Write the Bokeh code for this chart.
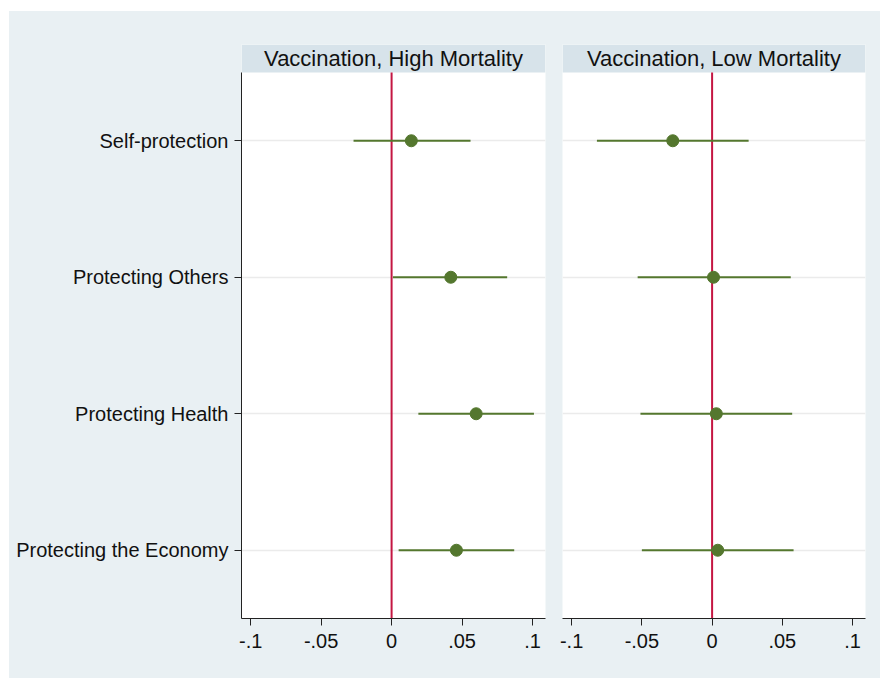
from bokeh.plotting import figure
from bokeh.models import ColumnDataSource, Range1d, FixedTicker, Label, Row
from bokeh.embed import file_html
from bokeh.resources import INLINE

# ---- data ----
categories = ["Self-protection", "Protecting Others", "Protecting Health", "Protecting the Economy"]
panels = ["Vaccination, High Mortality", "Vaccination, Low Mortality"]

high_est = [0.014, 0.042, 0.060, 0.046]
high_lo = [-0.027, 0.001, 0.019, 0.005]
high_hi = [0.056, 0.082, 0.101, 0.087]

low_est = [-0.028, 0.001, 0.003, 0.004]
low_lo = [-0.082, -0.053, -0.051, -0.050]
low_hi = [0.026, 0.056, 0.057, 0.058]

x_ticks = [-0.1, -0.05, 0, 0.05, 0.1]
x_tick_labels = ["-.1", "-.05", "0", ".05", ".1"]

# ---- style ----
BG = "#E9F0F3"
STRIP = "#D7E3EA"
GREEN = "#54772E"
RED = "#C41642"
GRID = "#EBEBEB"
FONT = "Liberation Sans"

ypos = list(range(1, len(categories) + 1))
y_bottom = len(categories) + 0.5
y_top = 0.5
px_per_unit = 136.5
strip_units = 28 / px_per_unit
X0, X1 = -0.1065, 0.1092


def make_panel(title, est, lo, hi, show_y, width, left, right):
    p = figure(width=width, height=667, output_backend="svg", toolbar_location=None,
               x_range=Range1d(X0, X1), y_range=Range1d(y_bottom, y_top - strip_units),
               min_border_left=left, min_border_right=right, min_border_top=33,
               min_border_bottom=60)
    p.background_fill_color = "white"
    p.border_fill_color = BG
    p.outline_line_color = None

    # title strip
    p.quad(left=[X0], right=[X1], top=[y_top - strip_units], bottom=[y_top],
           fill_color=STRIP, line_color=None)
    p.add_layout(Label(x=(X0 + X1) / 2, y=y_top - strip_units / 2, text=title,
                       text_align="center", text_baseline="middle",
                       text_font=FONT, text_font_size="22px", text_color="#111111"))

    # zero line
    p.segment(x0=[0], x1=[0], y0=[y_top], y1=[y_bottom], line_color=RED, line_width=2)

    src = ColumnDataSource(dict(y=ypos, est=est, lo=lo, hi=hi))
    p.segment(x0="lo", x1="hi", y0="y", y1="y", source=src, line_color=GREEN, line_width=2)
    p.scatter(x="est", y="y", source=src, size=12, fill_color=GREEN, line_color=GREEN)

    # grids
    p.xgrid.visible = False
    p.ygrid.ticker = FixedTicker(ticks=ypos)
    p.ygrid.grid_line_color = GRID
    p.ygrid.grid_line_width = 1.5

    # x axis
    xa = p.xaxis[0]
    xa.ticker = FixedTicker(ticks=x_ticks)
    xa.major_label_overrides = {t: l for t, l in zip(x_ticks, x_tick_labels)}
    xa.major_label_text_font = FONT
    xa.major_label_text_font_size = "20px"
    xa.major_label_text_color = "#111111"
    xa.major_tick_out = 7
    xa.major_tick_in = 0
    xa.minor_tick_line_color = None
    xa.axis_line_color = "#222222"
    xa.major_tick_line_color = "#222222"
    xa.major_label_standoff = 8

    ya = p.yaxis[0]
    if show_y:
        ya.ticker = FixedTicker(ticks=ypos)
        ya.major_label_overrides = {y: c for y, c in zip(ypos, categories)}
        ya.major_label_text_font = FONT
        ya.major_label_text_font_size = "20px"
        ya.major_label_text_color = "#111111"
        ya.major_tick_out = 7
        ya.major_tick_in = 0
        ya.minor_tick_line_color = None
        ya.bounds = (y_top, y_bottom)
        ya.axis_line_color = "#222222"
        ya.major_tick_line_color = "#222222"
        ya.major_label_standoff = 6
    else:
        ya.visible = False
    return p


p1 = make_panel(panels[0], high_est, high_lo, high_hi, True, 545, 232, 9)
p2 = make_panel(panels[1], low_est, low_lo, low_hi, False, 326, 8, 15)

layout = Row(p1, p2, spacing=0, margin=(11, 0, 0, 9), styles={"background-color": BG})
open("out.html", "w").write(file_html(layout, INLINE))
